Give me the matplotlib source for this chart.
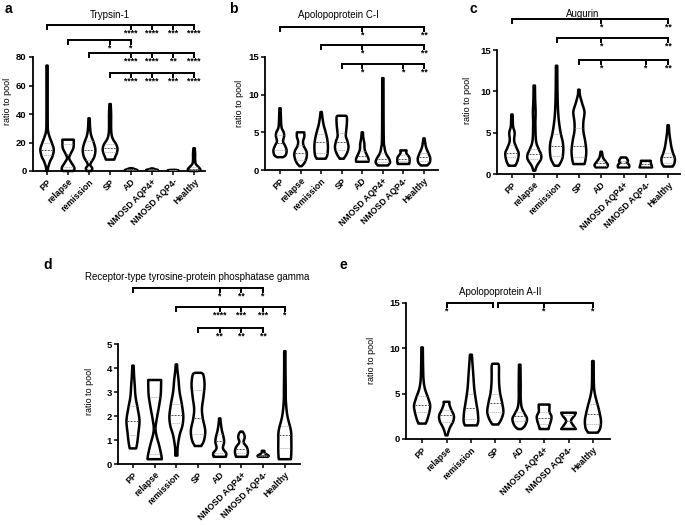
import numpy as np
import matplotlib
matplotlib.use("Agg")
import matplotlib.pyplot as plt

plt.rcParams['font.family'] = ['Liberation Sans', 'DejaVu Sans']

GROUPS = ["PP", "relapse", "remission", "SP", "AD", "NMOSD AQP4+", "NMOSD AQP4-", "Healthy"]

# ---------------- Panel a: Trypsin-1 ----------------
TRYP_Y = [[0, 3, 7, 10, 15, 20, 24, 28, 35, 74],
          [0, 1, 3, 6, 9, 12, 16, 20, 22],
          [0, 2, 4, 6, 10, 15, 20, 25, 30, 37],
          [8, 10, 13, 16, 19, 22, 25, 30, 40, 47],
          [0.2, 0.6, 1.2, 2.0],
          [0.3, 0.7, 1.2, 1.8],
          [0.3, 0.5, 0.8],
          [0, 1, 3, 5, 8, 12, 16]]
TRYP_W = [[0.03, 0.06, 0.15, 0.25, 0.32, 0.22, 0.12, 0.05, 0.03, 0.03],
          [0.25, 0.3, 0.28, 0.15, 0.05, 0.12, 0.25, 0.27, 0.27],
          [0.12, 0.15, 0.06, 0.1, 0.25, 0.3, 0.22, 0.1, 0.05, 0.03],
          [0.2, 0.25, 0.33, 0.35, 0.28, 0.15, 0.08, 0.05, 0.05, 0.03],
          [0.25, 0.3, 0.2, 0.05],
          [0.2, 0.28, 0.15, 0.05],
          [0.2, 0.25, 0.1],
          [0.2, 0.3, 0.2, 0.08, 0.05, 0.05, 0.03]]
TRYP_Q = [[11, 15, 20], [3, 12, 19], [8, 15, 21], [13, 16, 19],
          [0.5, 0.8, 1.1], [0.5, 0.8, 1.1], [0.4, 0.5, 0.6], [0.8, 1.5, 3]]

# ---------------- Panel b: Apolipoprotein C-I ----------------
APOC_Y = [[1.7, 2.0, 2.6, 3.2, 3.8, 4.5, 5.0, 5.6, 6.5, 8.2],
          [0.5, 1.0, 1.8, 2.5, 3.2, 3.8, 4.4, 5.0],
          [1.5, 2.0, 3.0, 4.0, 5.0, 6.0, 7.0, 7.7],
          [1.5, 2.2, 3.0, 3.8, 4.5, 5.3, 6.2, 7.0, 7.2],
          [1.1, 1.5, 2.0, 2.7, 3.5, 4.3, 5.0],
          [0.6, 1.0, 1.5, 2.2, 3.0, 4.5, 12.2],
          [0.8, 1.2, 1.7, 2.2, 2.6],
          [0.6, 1.0, 1.6, 2.2, 3.0, 3.8, 4.2]]
APOC_W = [[0.15, 0.28, 0.32, 0.25, 0.15, 0.2, 0.18, 0.08, 0.05, 0.03],
          [0.05, 0.2, 0.3, 0.28, 0.15, 0.12, 0.18, 0.18],
          [0.22, 0.3, 0.33, 0.3, 0.22, 0.12, 0.06, 0.03],
          [0.1, 0.25, 0.33, 0.28, 0.2, 0.22, 0.25, 0.25, 0.2],
          [0.3, 0.3, 0.22, 0.12, 0.1, 0.05, 0.03],
          [0.25, 0.35, 0.3, 0.15, 0.08, 0.04, 0.03],
          [0.28, 0.3, 0.28, 0.15, 0.15],
          [0.15, 0.28, 0.3, 0.22, 0.1, 0.05, 0.03]]
APOC_Q = [[2.6, 3.6, 4.6], [1.3, 2.3, 3.3], [2.3, 3.7, 4.8], [2.6, 3.7, 4.9],
          [1.3, 1.8, 2.5], [1.1, 1.5, 2.2], [1.2, 1.5, 2.0], [1.2, 1.7, 2.2]]

# ---------------- Panel c: Augurin ----------------
AUG_Y = [[1.0, 1.6, 2.5, 3.2, 4.0, 5.0, 5.8, 7.2],
         [0.4, 1.0, 1.8, 2.4, 3.0, 4.0, 6.0, 7.5, 9.0, 10.7],
         [1.0, 1.8, 2.8, 3.8, 5.0, 6.5, 8.0, 10.0, 13.1],
         [1.2, 1.8, 2.8, 4.0, 5.2, 6.3, 7.5, 8.5, 9.5, 10.2],
         [0.8, 1.1, 1.5, 2.0, 2.7],
         [0.8, 1.1, 1.4, 1.6, 2.0],
         [0.8, 1.1, 1.4, 1.6],
         [0.9, 1.3, 1.9, 2.5, 3.2, 4.0, 5.0, 5.9]]
AUG_W = [[0.15, 0.25, 0.3, 0.2, 0.1, 0.12, 0.05, 0.03],
         [0.04, 0.12, 0.3, 0.3, 0.2, 0.08, 0.05, 0.06, 0.04, 0.03],
         [0.1, 0.25, 0.3, 0.28, 0.18, 0.1, 0.06, 0.04, 0.03],
         [0.25, 0.3, 0.33, 0.28, 0.2, 0.2, 0.25, 0.15, 0.05, 0.03],
         [0.25, 0.3, 0.2, 0.08, 0.03],
         [0.25, 0.25, 0.15, 0.2, 0.12],
         [0.28, 0.25, 0.22, 0.22],
         [0.2, 0.28, 0.3, 0.22, 0.15, 0.1, 0.05, 0.03]]
AUG_Q = [[2.0, 2.5, 3.5], [1.8, 2.4, 3.0], [2.2, 3.4, 4.8], [2.0, 3.4, 5.6],
         [1.0, 1.3, 1.6], [1.0, 1.3, 1.6], [1.0, 1.2, 1.4], [1.3, 2.0, 2.6]]

# ---------------- Panel d: PTPRG ----------------
PTP_Y = [[0.65, 0.9, 1.3, 1.8, 2.3, 2.8, 3.3, 3.7, 4.1],
         [0.2, 0.4, 0.8, 1.2, 1.5, 1.9, 2.4, 2.9, 3.5],
         [0.35, 0.7, 1.2, 1.6, 2.0, 2.5, 3.0, 3.5, 3.9, 4.15],
         [0.75, 1.0, 1.4, 1.9, 2.3, 2.8, 3.3, 3.7, 3.8],
         [0.3, 0.45, 0.65, 0.9, 1.1, 1.4, 1.7, 1.9],
         [0.3, 0.5, 0.7, 0.9, 1.1, 1.25, 1.35],
         [0.3, 0.35, 0.45, 0.55],
         [0.2, 0.5, 1.0, 1.4, 2.0, 2.6, 3.2, 4.0, 4.7]]
PTP_W = [[0.15, 0.2, 0.25, 0.3, 0.22, 0.12, 0.08, 0.05, 0.03],
         [0.33, 0.3, 0.2, 0.08, 0.04, 0.1, 0.2, 0.28, 0.3],
         [0.05, 0.06, 0.15, 0.28, 0.32, 0.25, 0.15, 0.1, 0.05, 0.03],
         [0.15, 0.28, 0.33, 0.22, 0.18, 0.25, 0.3, 0.25, 0.15],
         [0.28, 0.3, 0.15, 0.2, 0.18, 0.1, 0.05, 0.03],
         [0.25, 0.3, 0.25, 0.1, 0.15, 0.12, 0.05],
         [0.22, 0.25, 0.08, 0.06],
         [0.28, 0.3, 0.3, 0.28, 0.12, 0.05, 0.04, 0.03, 0.03]]
PTP_Q = [[1.2, 1.8, 2.4], [0.4, 1.5, 2.8], [1.7, 2.05, 2.5], [1.25, 1.9, 3.1],
         [0.45, 0.95, 1.25], [0.45, 0.62, 0.9], [0.33, 0.38, 0.45], [0.65, 1.2, 1.6]]

# ---------------- Panel e: Apolipoprotein A-II ----------------
APOA_Y = [[1.7, 2.2, 3.0, 3.7, 4.5, 5.5, 6.5, 8.0, 10.1],
          [0.4, 0.8, 1.3, 2.0, 2.6, 3.2, 3.8, 4.1],
          [1.5, 2.0, 3.0, 4.0, 5.5, 7.0, 8.5, 9.3],
          [1.6, 2.2, 3.0, 4.0, 5.0, 6.0, 7.0, 8.0, 8.3],
          [1.1, 1.5, 2.2, 2.8, 3.5, 4.5, 6.0, 8.2],
          [1.1, 1.5, 2.0, 2.5, 3.0, 3.5, 3.8],
          [1.1, 1.4, 2.0, 2.6, 2.9],
          [0.7, 1.2, 2.0, 2.8, 3.5, 4.2, 5.0, 6.0, 8.6]]
APOA_W = [[0.15, 0.22, 0.3, 0.33, 0.25, 0.12, 0.06, 0.04, 0.03],
          [0.04, 0.08, 0.15, 0.28, 0.3, 0.2, 0.12, 0.12],
          [0.25, 0.3, 0.28, 0.22, 0.14, 0.1, 0.06, 0.04],
          [0.12, 0.25, 0.33, 0.28, 0.2, 0.16, 0.15, 0.15, 0.12],
          [0.08, 0.22, 0.3, 0.2, 0.08, 0.04, 0.04, 0.03],
          [0.18, 0.22, 0.28, 0.3, 0.22, 0.22, 0.22],
          [0.3, 0.22, 0.1, 0.25, 0.3],
          [0.2, 0.3, 0.33, 0.28, 0.22, 0.15, 0.08, 0.04, 0.03]]
APOA_Q = [[3.0, 3.8, 4.7], [1.9, 2.6, 3.2], [2.2, 3.4, 5.0], [3.0, 4.0, 5.0],
          [2.0, 2.5, 3.0], [1.7, 2.3, 3.0], [1.3, 2.0, 2.6], [1.7, 2.8, 3.9]]

# Significance brackets: (y, x_start, x_end, tick positions, star labels)
TRYP_BR = [(102.5, 0, 7, [4, 5, 6, 7], ["****", "****", "***", "****"]),
           (91.9, 1, 4, [3, 4], ["*", "*"]),
           (82.8, 2, 7, [4, 5, 6, 7], ["****", "****", "**", "****"]),
           (68.8, 3, 7, [4, 5, 6, 7], ["****", "****", "***", "****"])]
APOC_BR = [(19.0, 0, 7, [4, 7], ["*", "**"]),
           (16.6, 2, 7, [4, 7], ["*", "**"]),
           (14.1, 3, 7, [4, 6, 7], ["*", "*", "**"])]
AUG_BR = [(18.7, 0, 7, [4, 7], ["*", "**"]),
          (16.4, 2, 7, [4, 7], ["*", "**"]),
          (13.8, 3, 7, [4, 6, 7], ["*", "*", "**"])]
PTP_BR = [(7.33, 0, 6, [4, 5, 6], ["*", "**", "*"]),
          (6.54, 2, 7, [4, 5, 6, 7], ["****", "***", "***", "*"]),
          (5.67, 3, 6, [4, 5, 6], ["**", "**", "**"])]
APOA_BR = [(15.0, 1, 2.9, [1, 2.9], ["*", ""]),
           (15.0, 3.1, 7, [5, 7], ["*", "*"])]

W, H = 685, 525
fig = plt.figure(figsize=(W / 100, H / 100), dpi=100)


def fx(x):
    return x / W


def fy(y):
    return 1 - y / H


def make_ax(left, right, top, bottom, xlim, ylim, yticks):
    ax = fig.add_axes([fx(left), fy(bottom), (right - left) / W, (bottom - top) / H])
    ax.set_xlim(*xlim)
    ax.set_ylim(*ylim)
    for s in ["top", "right"]:
        ax.spines[s].set_visible(False)
    for s in ["left", "bottom"]:
        ax.spines[s].set_linewidth(1.3)
    ax.set_yticks(yticks)
    ax.set_xticks(range(len(GROUPS)))
    ax.set_xticklabels(GROUPS, rotation=45, ha="right", rotation_mode="anchor",
                       fontsize=6.3, fontweight="bold")
    ax.tick_params(axis="both", direction="out", length=3, width=1.1, pad=1.5)
    for lab in ax.get_yticklabels():
        lab.set_fontsize(6.8)
        lab.set_fontweight("bold")
    ax.patch.set_alpha(0)
    return ax


def catmull(ys, ws, n=10):
    """Smooth outline through the given knots (Catmull-Rom)."""
    P = np.column_stack([ys, ws])
    if len(P) < 3:
        return P[:, 0], P[:, 1]
    Pp = np.vstack([P[0], P, P[-1]])
    out = []
    t = np.linspace(0, 1, n, endpoint=False)[:, None]
    for i in range(1, len(Pp) - 2):
        p0, p1, p2, p3 = Pp[i - 1], Pp[i], Pp[i + 1], Pp[i + 2]
        seg = 0.5 * ((2 * p1) + (-p0 + p2) * t + (2 * p0 - 5 * p1 + 4 * p2 - p3) * t ** 2
                     + (-p0 + 3 * p1 - 3 * p2 + p3) * t ** 3)
        out.append(seg)
    out.append(P[-1][None, :])
    out = np.vstack(out)
    return out[:, 0], np.clip(out[:, 1], 0.015, None)


def draw_violins(ax, Ys, Ws, Qs):
    for i, (ys, ws, qs) in enumerate(zip(Ys, Ws, Qs)):
        ys = np.asarray(ys, float)
        ws = np.asarray(ws, float)
        sy, sw = catmull(ys, ws)
        xs = np.concatenate([i - sw, (i + sw)[::-1]])
        yy = np.concatenate([sy, sy[::-1]])
        ax.fill(xs, yy, facecolor="white", edgecolor="black", lw=1.8,
                joinstyle="round", zorder=3, clip_on=False)
        for k, q in enumerate(qs):
            w = np.interp(q, sy, sw) * 0.85
            if k == 1:
                ax.plot([i - w, i + w], [q, q], color="#555555", lw=0.7,
                        dashes=(2, 1.2), zorder=4)
            else:
                ax.plot([i - w, i + w], [q, q], color="#aaaaaa", lw=0.7,
                        dashes=(1, 1), zorder=4)


def draw_brackets(ax, brs, ppu):
    drop = 4.0 / ppu
    sdrop = 8.0 / ppu
    for (y, x0, x1, ticks, stars) in brs:
        ax.plot([x0, x0, x1, x1], [y - drop, y, y, y - drop], color="black",
                lw=1.4, clip_on=False, solid_joinstyle="miter", zorder=5)
        for t, s in zip(ticks, stars):
            ax.plot([t, t], [y, y - drop], color="black", lw=1.4, clip_on=False, zorder=5)
            if s:
                ax.text(t, y - sdrop, s, ha="center", va="center", fontsize=6.2,
                        fontweight="bold", clip_on=False)


# panel geometry (pixels): left, right, top, bottom
panels = [
    dict(geom=(33, 205, 57, 171), xlim=(-0.67, 7.52), ymax=80, yticks=[0, 20, 40, 60, 80],
         Y=TRYP_Y, Wd=TRYP_W, Q=TRYP_Q, BR=TRYP_BR, title="Trypsin-1", tpos=(110, 15),
         letter="a", lpos=(8, 9), ylab=(8, 101)),
    dict(geom=(265, 438, 57, 170), xlim=(-0.73, 7.68), ymax=15, yticks=[0, 5, 10, 15],
         Y=APOC_Y, Wd=APOC_W, Q=APOC_Q, BR=APOC_BR, title="Apolopoprotein C-I", tpos=(338, 15),
         letter="b", lpos=(233, 9), ylab=(240, 103)),
    dict(geom=(497, 680, 50, 174), xlim=(-0.67, 7.53), ymax=15, yticks=[0, 5, 10, 15],
         Y=AUG_Y, Wd=AUG_W, Q=AUG_Q, BR=AUG_BR, title="Augurin", tpos=(583, 14),
         letter="c", lpos=(473, 9), ylab=(467, 100)),
    dict(geom=(118, 300, 344, 464), xlim=(-0.69, 7.7), ymax=5, yticks=[0, 1, 2, 3, 4, 5],
         Y=PTP_Y, Wd=PTP_W, Q=PTP_Q, BR=PTP_BR,
         title="Receptor-type tyrosine-protein phosphatase gamma", tpos=(197, 277),
         letter="d", lpos=(48, 265), ylab=(90, 391)),
    dict(geom=(406, 610, 303, 439), xlim=(-0.66, 7.7), ymax=15, yticks=[0, 5, 10, 15],
         Y=APOA_Y, Wd=APOA_W, Q=APOA_Q, BR=APOA_BR, title="Apolopoprotein A-II", tpos=(500, 292),
         letter="e", lpos=(343, 265), ylab=(372, 360)),
]

for p in panels:
    l, r, t, b = p["geom"]
    ax = make_ax(l, r, t, b, p["xlim"], (0, p["ymax"]), p["yticks"])
    draw_violins(ax, p["Y"], p["Wd"], p["Q"])
    ppu = (b - t) / p["ymax"]
    draw_brackets(ax, p["BR"], ppu)
    fig.text(fx(p["tpos"][0]), fy(p["tpos"][1]), p["title"], ha="center", va="center", fontsize=7)
    fig.text(fx(p["lpos"][0]), fy(p["lpos"][1]), p["letter"], ha="center", va="center",
             fontsize=10, fontweight="bold")
    fig.text(fx(p["ylab"][0]), fy(p["ylab"][1]), "ratio to pool", ha="center", va="center",
             fontsize=6.5, rotation=90)

fig.savefig("out.png", dpi=100)
